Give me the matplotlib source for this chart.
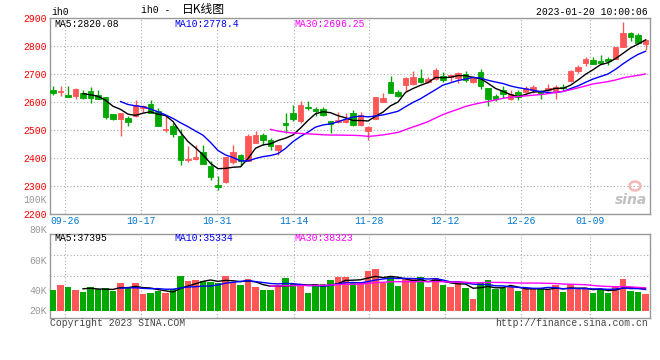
import matplotlib
matplotlib.use('Agg')
import matplotlib.pyplot as plt
from matplotlib.patches import Ellipse
import pandas as pd

# daily candles, oldest first
opens = [2643, 2637, 2624, 2622, 2633, 2638, 2624, 2619, 2556, 2538,
         2543, 2550, 2578, 2594, 2567, 2500, 2514, 2478, 2392, 2397,
         2422, 2373, 2305, 2313, 2385, 2409, 2388, 2452, 2481, 2466,
         2428, 2524, 2559, 2532, 2583, 2574, 2574, 2531, 2528, 2528,
         2562, 2519, 2496, 2540, 2600, 2672, 2636, 2660, 2663, 2685,
         2672, 2681, 2693, 2690, 2684, 2699, 2672, 2708, 2649, 2622,
         2643, 2610, 2636, 2636, 2643, 2638, 2643, 2639, 2652, 2675,
         2711, 2739, 2750, 2746, 2755, 2755, 2798, 2845, 2839, 2807]
highs = [2657, 2657, 2657, 2651, 2642, 2654, 2642, 2619, 2558, 2559,
         2550, 2607, 2588, 2607, 2578, 2550, 2526, 2502, 2442, 2448,
         2445, 2388, 2335, 2404, 2445, 2414, 2486, 2498, 2490, 2471,
         2448, 2559, 2588, 2604, 2604, 2583, 2581, 2531, 2564, 2559,
         2571, 2564, 2516, 2618, 2631, 2693, 2643, 2691, 2711, 2717,
         2691, 2723, 2708, 2696, 2708, 2711, 2686, 2717, 2651, 2627,
         2657, 2643, 2643, 2657, 2660, 2643, 2663, 2660, 2666, 2715,
         2731, 2761, 2759, 2767, 2761, 2798, 2884, 2850, 2845, 2824]
lows = [2626, 2621, 2617, 2610, 2610, 2598, 2610, 2540, 2535, 2478,
        2514, 2547, 2564, 2559, 2514, 2492, 2476, 2376, 2385, 2394,
        2378, 2323, 2284, 2311, 2380, 2373, 2388, 2452, 2445, 2430,
        2412, 2490, 2532, 2524, 2571, 2550, 2550, 2490, 2524, 2524,
        2514, 2516, 2466, 2538, 2600, 2631, 2619, 2639, 2662, 2667,
        2669, 2679, 2672, 2672, 2667, 2672, 2667, 2645, 2586, 2604,
        2616, 2607, 2607, 2631, 2631, 2610, 2639, 2610, 2643, 2672,
        2705, 2729, 2735, 2735, 2731, 2753, 2795, 2819, 2807, 2786]
closes = [2633, 2639, 2617, 2645, 2614, 2614, 2612, 2546, 2538, 2559,
          2528, 2590, 2586, 2562, 2516, 2504, 2484, 2392, 2398, 2403,
          2380, 2332, 2296, 2404, 2423, 2388, 2478, 2481, 2464, 2442,
          2448, 2519, 2538, 2588, 2578, 2567, 2555, 2521, 2535, 2540,
          2519, 2555, 2512, 2618, 2616, 2631, 2622, 2684, 2688, 2672,
          2681, 2714, 2679, 2696, 2702, 2679, 2684, 2657, 2612, 2610,
          2627, 2627, 2619, 2651, 2654, 2633, 2651, 2655, 2650, 2711,
          2725, 2753, 2737, 2740, 2746, 2798, 2848, 2833, 2809, 2821]
volumes = [36800, 40000, 38700, 36800, 35500, 38700, 37400, 38100, 36100, 41400,
           38700, 41400, 34100, 34800, 36100, 34800, 37400, 46000, 42700, 43300,
           42700, 42000, 41400, 46000, 42000, 40000, 44000, 38700, 36800, 36800,
           40000, 44600, 40700, 40000, 34800, 40700, 40700, 43300, 45300, 45300,
           41400, 42000, 49200, 50500, 41400, 45300, 39400, 44000, 44000, 45300,
           38700, 44600, 40000, 38700, 42000, 38100, 30900, 41400, 43300, 37400,
           38100, 38700, 36100, 37400, 37400, 38100, 36800, 40000, 35500, 40000,
           37400, 37400, 34800, 37400, 34800, 39400, 44000, 36100, 35500, 34100]

date_labels = ['09-26', '10-17', '10-31', '11-14', '11-28', '12-12', '12-26', '01-09']
date_pos = [1.64, 11.77, 21.91, 32.09, 42.09, 52.23, 62.36, 71.56]
price_ticks = [2200, 2300, 2400, 2500, 2600, 2700, 2800, 2900]
vol_labels = ['80K', '60K', '40K', '20K']
vol_label_y = [230, 261, 291, 311]   # pixel rows of the labels
price_legend = ['MA5:2820.08', 'MA10:2778.4', 'MA30:2696.25']
vol_legend = ['MA5:37395', 'MA10:35334', 'MA30:38323']
vol_base = 23000

RED = '#ff5757'
GREEN = '#00a800'
MA_COLORS = ['black', '#0000ff', '#ff00ff']
GRID = '#aaaaaa'
MONO = 'Liberation Mono'
W, H = 660, 360

def fx(px):
    return px / W

def fy(py):
    return 1 - py / H

df = pd.DataFrame({'o': opens, 'h': highs, 'l': lows, 'c': closes, 'v': volumes})
x = list(range(len(df)))
colors = [RED if c >= o else GREEN for o, c in zip(df.o, df.c)]

fig = plt.figure(figsize=(6.6, 3.6), dpi=100)
ax = fig.add_axes([fx(50), fy(214), 600 / W, 196 / H])
axv = fig.add_axes([fx(50), fy(318), 600 / W, 84 / H])

# price panel
ax.vlines(x, df.l, df.h, colors=colors, linewidth=1, zorder=3)
body = [max(abs(c - o), 1.2) for o, c in zip(df.o, df.c)]
ax.bar(x, body, bottom=[min(o, c) for o, c in zip(df.o, df.c)], width=0.76,
       color=colors, edgecolor=colors, linewidth=0.6, zorder=4)
for n, col in zip([5, 10, 30], MA_COLORS):
    ax.plot(x, df.c.rolling(n).mean(), color=col, linewidth=1, zorder=5)

ax.set_xlim(-0.4, 79.6)
ax.set_ylim(2200, 2900)
ax.set_yticks(price_ticks)
ax.set_yticklabels([str(t) for t in price_ticks], color='#ff0000', family=MONO, fontsize=7)
ax.set_xticks(date_pos)
ax.set_xticklabels(date_labels, color='#0077cc', family=MONO, fontsize=7)
ax.tick_params(length=0, pad=2.5)
ax.tick_params(axis='x', pad=1.5)
ax.grid(True, color=GRID, linestyle=(0, (1, 2)), linewidth=0.8)
for y, (txt, col) in enumerate(zip(price_legend, MA_COLORS)):
    fig.text(fx(54 + 120 * y), fy(24), txt, color=col, family=MONO, fontsize=7, va='center')

# volume panel
axv.bar(x, [v - vol_base for v in df.v], bottom=vol_base, width=0.82, color=colors, zorder=3)
for n, col in zip([5, 10, 30], MA_COLORS):
    axv.plot(x, df.v.rolling(n).mean(), color=col, linewidth=1, zorder=4)
axv.set_xlim(-0.4, 79.6)
axv.set_ylim(vol_base - 7 / 1.525 * 1000, vol_base + 77 / 1.525 * 1000)
axv.set_xticks(date_pos)
axv.set_xticklabels([])
axv.set_yticks([])
axv.tick_params(length=0)
axv.grid(True, axis='x', color=GRID, linestyle=(0, (1, 2)), linewidth=0.8)
for f in [0.5, 0.75]:
    axv.plot([0, 1], [f, f], transform=axv.transAxes, color=GRID,
             linestyle=(0, (1, 2)), linewidth=0.8, zorder=1)
for lab, py in zip(vol_labels, vol_label_y):
    fig.text(fx(47), fy(py), lab, color='#999999', family=MONO, fontsize=7, ha='right', va='center')
for y, (txt, col) in enumerate(zip(vol_legend, MA_COLORS)):
    fig.text(fx(54 + 120 * y), fy(238), txt, color=col, family=MONO, fontsize=7, va='center')

for a in (ax, axv):
    for s in a.spines.values():
        s.set_color('#999999')
        s.set_linewidth(1)

# header, footer, watermark
fig.text(fx(51), fy(12), 'ih0', family=MONO, fontsize=7, va='center')
fig.text(fx(141), fy(10), 'ih0 -', family=MONO, fontsize=7, va='center')
fig.text(fx(182), fy(10), '日K线图', family=['Noto Sans CJK SC', 'DejaVu Sans'],
         fontsize=8.5, va='center')
fig.text(fx(648), fy(12), '2023-01-20 10:00:06', family=MONO, fontsize=7, ha='right', va='center')
fig.text(fx(47), fy(200), '100K', color='#999999', family=MONO, fontsize=7, ha='right', va='center')
fig.text(fx(50), fy(323), 'Copyright 2023 SINA.COM', color='#444444', family=MONO, fontsize=7, va='center')
fig.text(fx(648), fy(323), 'http://finance.sina.com.cn', color='#444444', family=MONO,
         fontsize=7, ha='right', va='center')
fig.text(fx(647), fy(200), 'sina', color='#c0c0c0', fontsize=10, style='italic',
         weight='bold', ha='right', va='center')
fig.patches.append(Ellipse((fx(635), fy(186)), 11 / W, 9 / H, transform=fig.transFigure,
                           fill=False, edgecolor='#f2b8b8', linewidth=1.8))

fig.savefig('out.png', dpi=100)
